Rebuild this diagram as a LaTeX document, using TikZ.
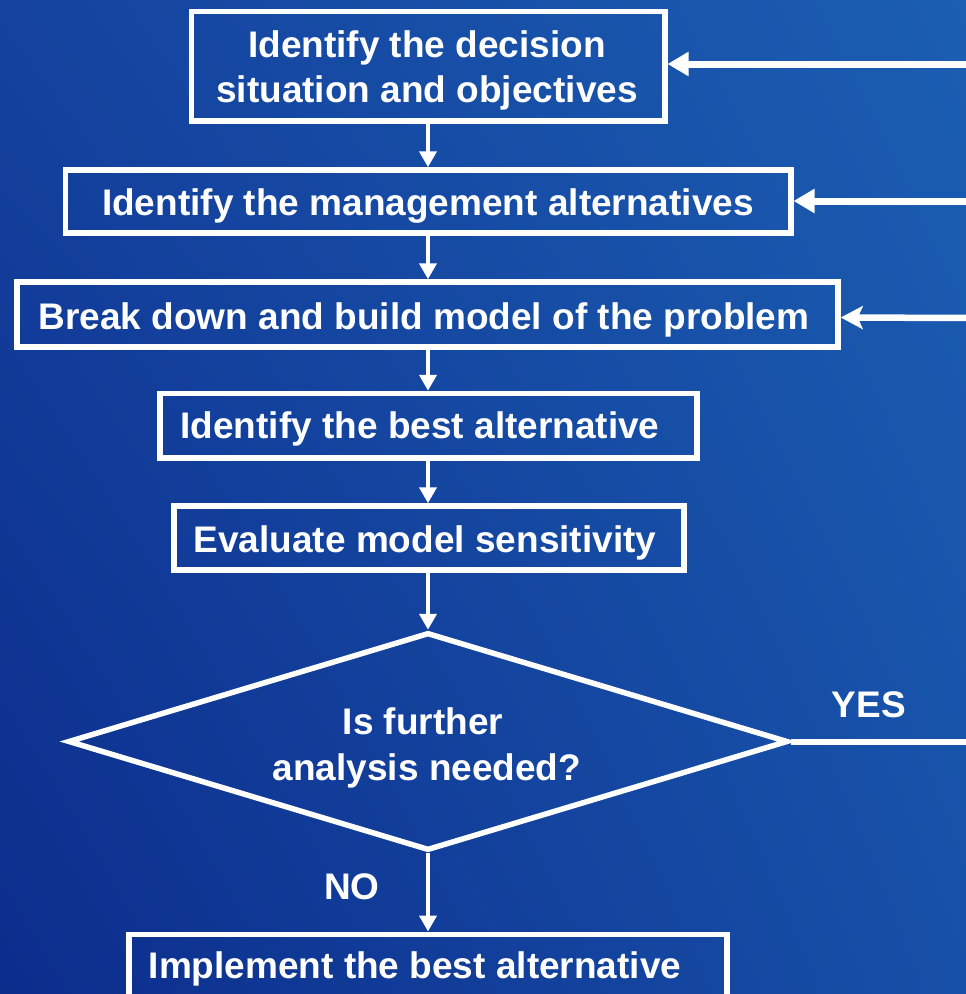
\documentclass[tikz,border=0pt]{standalone}
\usepackage{fontspec}
\setmainfont{Liberation Sans}
\usetikzlibrary{arrows.meta,shapes.geometric,shadings}
\definecolor{bgLL}{HTML}{0C2C8C}
\definecolor{bgUL}{HTML}{14429E}
\definecolor{bgUR}{HTML}{1B5EB2}
\definecolor{bgLR}{HTML}{1750A8}
\begin{document}
\begin{tikzpicture}[x=1pt,y=-1pt,
  stepbox/.style={draw=white,line width=5.5pt,inner sep=0pt},
  decision/.style={diamond,aspect=3.3,draw=white,line width=5.5pt,inner sep=0pt},
  caption/.style={text=white,font=\fontsize{37}{46}\selectfont\bfseries,inner sep=0pt,
    text height=26.5pt,text depth=0pt},
  down/.style={draw=white,line width=4.5pt,-{Triangle[width=17pt,length=16pt]}},
  back/.style={draw=white,line width=7pt,-{Triangle[width=23pt,length=21pt]}},
  backnotch/.style={draw=white,line width=6.5pt,-{Stealth[width=23pt,length=22pt,inset=5pt]}},
  plain/.style={draw=white,line width=6pt}]
  % background
  \useasboundingbox (0,0) rectangle (966,994);
  \shade[lower left=bgLL,upper left=bgUL,upper right=bgUR,lower right=bgLR]
    (0,994) rectangle (966,0);

  % process steps
  \node[stepbox,minimum width=473.5pt,minimum height=109.5pt] (s1) at (428,66.25) {};
  \node[caption] (s1a) at (427,44) {Identify the decision};
  \node[caption] (s1b) at (427,89.5) {situation and objectives};

  \node[stepbox,minimum width=725.5pt,minimum height=63pt] (s2) at (428,201.5) {};
  \node[caption] (s2t) at (428,202) {Identify the management alternatives};

  \node[stepbox,minimum width=821pt,minimum height=65pt] (s3) at (427.5,314.5) {};
  \node[caption] (s3t) at (424,316) {Break down and build model of the problem};

  \node[stepbox,minimum width=537pt,minimum height=64.5pt] (s4) at (428.5,425.75) {};
  \node[caption] (s4t) at (420,425.5) {Identify the best alternative};

  \node[stepbox,minimum width=510pt,minimum height=64pt] (s5) at (429,538) {};
  \node[caption] (s5t) at (425,539.5) {Evaluate model sensitivity};

  \node[decision,minimum width=720pt,minimum height=218pt] (d) at (428,741.5) {};
  \node[caption] (da) at (423,721) {Is further};
  \node[caption] (db) at (427,767) {analysis needed?};

  \node[stepbox,minimum width=598pt,minimum height=137pt,anchor=north] (s6) at (428,931.5) {};
  \node[caption] (s6t) at (415,965) {Implement the best alternative};

  % branch labels
  \node[caption] (yes) at (869,704) {YES};
  \node[caption] (no) at (352,886) {NO};

  % feedback entry points at the right edge
  \coordinate (r1) at (972,64);
  \coordinate (r2) at (972,201);
  \coordinate (r3) at (972,318);
  \coordinate (ry) at (972,741.5);

  % main flow, kept on the vertical through the diamond tips
  \draw[down] (d.north |- s1.south) -- (d.north |- s2.north);
  \draw[down] (d.north |- s2.south) -- (d.north |- s3.north);
  \draw[down] (d.north |- s3.south) -- (d.north |- s4.north);
  \draw[down] (d.north |- s4.south) -- (d.north |- s5.north);
  \draw[down] (d.north |- s5.south) -- (d.north);
  \draw[down] (d.south) -- (d.south |- s6.north);

  % loop back
  \draw[plain] (d.east) -- (ry);
  \draw[back] (r1) -- (s1.east |- r1);
  \draw[back] (r2) -- (s2.east |- r2);
  \draw[backnotch] (r3) -- ([yshift=-3pt]s3.east);
\end{tikzpicture}
\end{document}
